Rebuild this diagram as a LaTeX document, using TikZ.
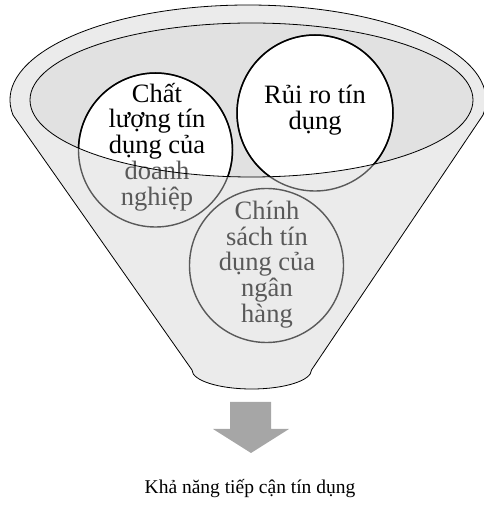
\documentclass[tikz,border=0pt]{standalone}
\usepackage{fontspec}
\setmainfont{Liberation Serif}
\definecolor{funnelgray}{RGB}{235,235,235}
\definecolor{innergray}{RGB}{225,225,225}
\definecolor{txtgray}{RGB}{89,89,89}
\definecolor{arrowgray}{RGB}{166,166,166}
\tikzset{
  circtext/.style={align=center, inner sep=0pt, font=\fontsize{26.5}{25.8}\selectfont},
  grayring/.style={draw=txtgray, line width=1.4pt},
  blackring/.style={draw=black, line width=1.5pt},
  outline/.style={draw=black, line width=0.8pt}
}
\begin{document}
\begin{tikzpicture}[x=1pt,y=1pt]
\useasboundingbox (0,0) rectangle (483,512);
% funnel body
\path[outline, fill=funnelgray] (248,412) ++(189.2:238 and 95)
  arc[start angle=189.2, end angle=-9.2, x radius=238, y radius=95]
  -- (311.5,142) arc[start angle=0, end angle=-180, x radius=59.75, y radius=19]
  -- cycle;
% inner ellipse fill
\fill[innergray] (251.5,412) ellipse [x radius=221.5, y radius=77];
% circle centres
\coordinate (c1) at (155.5,362);
\coordinate (c2) at (315,399);
\coordinate (c3) at (266.5,246.5);
% white part inside the ellipse
\begin{scope}
  \clip (251.5,412) ellipse [x radius=221.5, y radius=77];
  \fill[white] (c1) circle[radius=77];
  \fill[white] (c2) circle[radius=78];
\end{scope}
% gray rings
\draw[grayring] (c1) circle[radius=77];
\draw[grayring] (c2) circle[radius=78];
\draw[grayring] (c3) circle[radius=77];
% black rings inside the ellipse
\begin{scope}
  \clip (251.5,412) ellipse [x radius=221.5, y radius=77];
  \draw[blackring] (c1) circle[radius=77];
  \draw[blackring] (c2) circle[radius=78];
\end{scope}
% texts
\node[circtext] (t1) at (157,365) {Chất\\lượng tín\\dụng của\\\textcolor{txtgray}{doanh}\\\textcolor{txtgray}{nghiệp}};
\node[circtext] (t2) at (315,401.5) {Rủi ro tín\\dụng};
\node[circtext, text=txtgray] (t3) at (267,247.5) {Chính\\sách tín\\dụng của\\ngân\\hàng};
% inner ellipse outline
\draw[outline] (251.5,412) ellipse [x radius=221.5, y radius=77];
% arrow
\fill[arrowgray] (230,110) -- (271,110) -- (271,83) -- (289,83) -- (251,59) -- (213,83) -- (230,83) -- cycle;
% label
\node[anchor=base, inner sep=0pt, font=\fontsize{19.5}{23}\selectfont] (label) at (250,19) {Khả năng tiếp cận tín dụng};
\end{tikzpicture}
\end{document}
